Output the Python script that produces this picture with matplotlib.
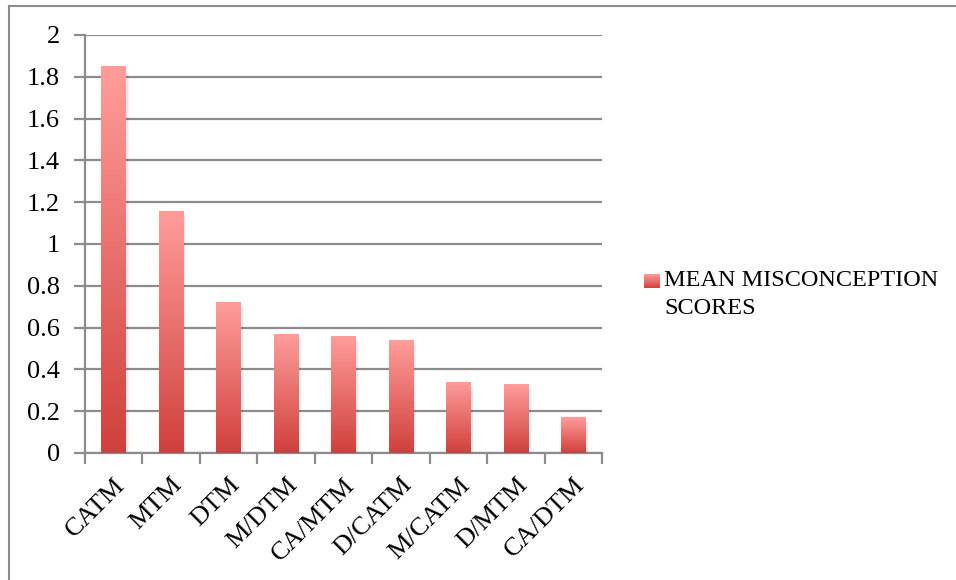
import numpy as np
import matplotlib
matplotlib.use("Agg")
import matplotlib.pyplot as plt
from matplotlib.lines import Line2D

# data
categories = ["CATM", "MTM", "DTM", "M/DTM", "CA/MTM", "D/CATM", "M/CATM", "D/MTM", "CA/DTM"]
scores = [1.85, 1.16, 0.72, 0.57, 0.56, 0.54, 0.34, 0.33, 0.17]
series_name = "MEAN MISCONCEPTION\nSCORES"
y_ticks = [0, 0.2, 0.4, 0.6, 0.8, 1, 1.2, 1.4, 1.6, 1.8, 2]
y_tick_labels = ["0", "0.2", "0.4", "0.6", "0.8", "1", "1.2", "1.4", "1.6", "1.8", "2"]

plt.rcParams['font.family'] = ['Liberation Serif', 'DejaVu Serif']
grid_col = "#8c8c8c"
top_col = np.array([255, 157, 155]) / 255
bot_col = np.array([208, 64, 60]) / 255

fig = plt.figure(figsize=(9.56, 5.8), dpi=100)
ax = fig.add_axes([0.0889, 0.219, 0.541, 0.7207])

x = np.arange(len(categories))
bars = ax.bar(x, scores, width=0.43, color="none", edgecolor="none", zorder=3)

# vertical gradient inside each bar
grad = np.linspace(0, 1, 256).reshape(-1, 1)
cmap = matplotlib.colors.LinearSegmentedColormap.from_list("g", [bot_col, top_col])
for b in bars:
    x0, w, h = b.get_x(), b.get_width(), b.get_height()
    # soft shadow
    for k, a in [(0.045, 0.04), (0.03, 0.05)]:
        ax.bar(x0 + w / 2 + k, h - 0.01, width=w, bottom=-0.012, color="#000000",
               alpha=a, zorder=2)
    im = ax.imshow(grad, cmap=cmap, aspect="auto", origin="lower",
                   extent=[x0, x0 + w, 0, h], zorder=3)
    im.set_clip_path(b)

ax.set_xlim(-0.5, len(categories) - 0.5)
ax.set_ylim(0, 2)
ax.set_yticks(y_ticks)
ax.set_yticklabels(y_tick_labels, fontsize=19)
ax.yaxis.grid(True, color=grid_col, linewidth=1.6, zorder=1)
ax.set_axisbelow(True)

ax.set_xticks(x)
ax.set_xticklabels(categories, fontsize=19, rotation=45, ha="right",
                   rotation_mode="anchor")
ax.set_xticks(np.arange(-0.5, len(categories)), minor=True)
ax.tick_params(axis="x", which="major", length=0, pad=15)
ax.tick_params(axis="x", which="minor", length=8, width=1.6, color=grid_col)
ax.tick_params(axis="y", length=8, width=1.6, color=grid_col, pad=10)

for s in ["top", "right"]:
    ax.spines[s].set_visible(False)
for s in ["left", "bottom"]:
    ax.spines[s].set_color(grid_col)
    ax.spines[s].set_linewidth(1.6)

# legend: gradient square + two-line label
lax = fig.add_axes([0.6736, 0.5035, 0.0157, 0.0241])
lax.imshow(grad, cmap=cmap, aspect="auto", origin="lower", extent=[0, 1, 0, 1])
lax.set_axis_off()
fig.text(0.6945, 0.534, series_name, fontsize=17.5, va="top", ha="left",
         linespacing=1.45)

# outer chart border (left and top visible)
fig.add_artist(Line2D([0.0094, 0.0094], [0, 0.99], transform=fig.transFigure,
                      color="#8c8c8c", linewidth=1.5))
fig.add_artist(Line2D([0.0094, 1.0], [0.99, 0.99], transform=fig.transFigure,
                      color="#8c8c8c", linewidth=1.5))

fig.savefig("out.png", dpi=100, facecolor="white")
